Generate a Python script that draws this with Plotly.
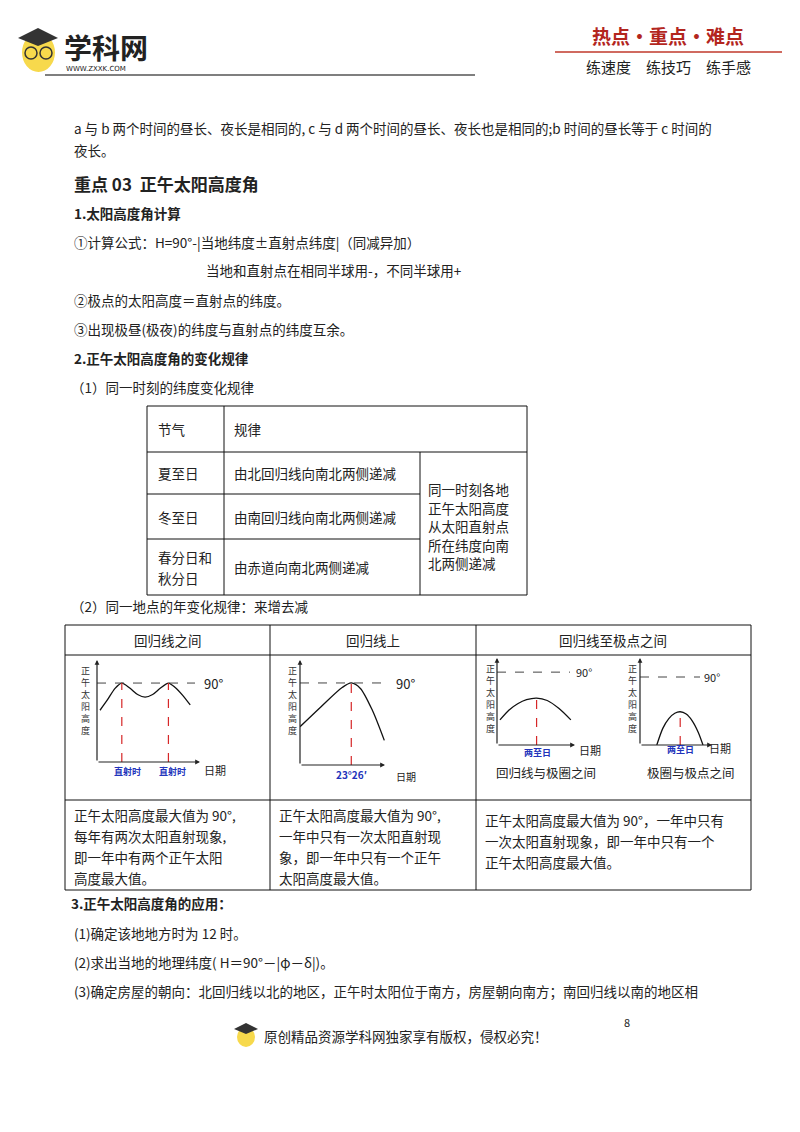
import plotly.graph_objects as go

W, H = 800, 1132
OFF = 8  # page body margin
HF = H - OFF
F = "Noto Sans CJK SC"

# ---- curve data (month index vs noon sun altitude, schematic) ----
a_x = [0, 1, 2, 2.9, 4, 5, 6, 7, 8, 9.1, 10, 11, 12]
a_y = [59, 71, 84, 90, 84, 77, 74, 77, 84, 90, 85, 76, 65]
b_x = [0, 3, 6, 7.3, 8.6, 10.3, 12]
b_y = [42, 64, 85, 90, 84, 60, 27]
c_x = [0, 1.5, 3, 4.5, 6.2, 8, 10, 12]
c_y = [31, 43, 51, 56, 58, 55, 45, 31]
d_x = [2.8, 3.8, 4.8, 5.8, 6.7, 7.7, 8.7, 9.7, 10.5]
d_y = [0, 22, 35, 42, 44, 41, 32, 17, 0]

fig = go.Figure()
ann = []
shp = []

def txt(x, y, s, size=13.5, color="#222", bold=False, xa="left", ya="middle", fam=F):
    ann.append(dict(x=x, y=y, xref="x", yref="y", text=("<b>%s</b>" % s) if bold else s,
                    showarrow=False, xanchor=xa, yanchor=ya, borderpad=0,
                    font=dict(family=fam, size=size, color=color)))

def line(x0, y0, x1, y1, color="#111", w=1, dash="solid"):
    shp.append(dict(type="line", xref="x", yref="y", x0=x0, y0=y0, x1=x1, y1=y1,
                    line=dict(color=color, width=w, dash=dash)))

def arrow(x0, y0, x1, y1):
    ann.append(dict(x=x1, y=y1, ax=x0, ay=y0, xref="x", yref="y", axref="x", ayref="y",
                    showarrow=True, arrowhead=2, arrowsize=0.8, arrowwidth=1.2,
                    arrowcolor="#222", text=""))

fig.add_trace(go.Scatter(x=[OFF + 1], y=[OFF + 1], mode="markers", marker=dict(opacity=0), showlegend=False))

# ---- header ----
shp.append(dict(type="circle", xref="x", yref="y", x0=22, y0=33, x1=55, y1=72,
                fillcolor="#f7d94c", line=dict(width=0)))
shp.append(dict(type="path", xref="x", yref="y", path="M 18 38 L 38 28 L 58 38 L 38 46 Z",
                fillcolor="#333", line=dict(width=0)))
shp.append(dict(type="circle", xref="x", yref="y", x0=25, y0=47, x1=37, y1=59, line=dict(color="#333", width=1.5)))
shp.append(dict(type="circle", xref="x", yref="y", x0=40, y0=47, x1=52, y1=59, line=dict(color="#333", width=1.5)))
txt(63, 47, "<b>学科网</b>", size=28, color="#222")
txt(65, 69, "WWW.ZXXK.COM", size=7, color="#222", fam="DejaVu Sans")
line(45, 75, 475, 75, color="#555", w=1.5)
txt(668, 35, "<b>热点·重点·难点</b>", size=19, color="#b3261e", xa="center")
line(555, 52, 782, 52, color="#c0392b", w=1.5)
txt(668, 66, "练速度　练技巧　练手感", size=15, color="#222", xa="center")

# ---- body text ----
txt(73, 128, "a 与 b 两个时间的昼长、夜长是相同的, c 与 d 两个时间的昼长、夜长也是相同的;b 时间的昼长等于 c 时间的")
txt(73, 150, "夜长。")
txt(73, 183, "<b>重点 03  正午太阳高度角</b>", size=17)
txt(73, 213, "1.太阳高度角计算", bold=True)
txt(73, 242, "①计算公式：H=90°-|当地纬度±直射点纬度|（同减异加）")
txt(205, 270, "当地和直射点在相同半球用-，不同半球用+")
txt(73, 300, "②极点的太阳高度＝直射点的纬度。")
txt(73, 329, "③出现极昼(极夜)的纬度与直射点的纬度互余。")
txt(73, 358, "2.正午太阳高度角的变化规律", bold=True)
txt(70, 387, "（1）同一时刻的纬度变化规律")

# ---- table 1 ----
for y in [406, 595]:
    line(147, y, 527, y)
line(147, 452, 527, 452)
line(147, 494, 420, 494)
line(147, 539, 420, 539)
line(147, 406, 147, 595); line(224, 406, 224, 595)
line(420, 452, 420, 595); line(527, 406, 527, 595)
txt(157, 429, "节气"); txt(233, 429, "规律")
txt(157, 473, "夏至日"); txt(233, 473, "由北回归线向南北两侧递减")
txt(157, 517, "冬至日"); txt(233, 517, "由南回归线向南北两侧递减")
txt(157, 557, "春分日和"); txt(157, 578, "秋分日")
txt(233, 567, "由赤道向南北两侧递减")
for i, s in enumerate(["同一时刻各地", "正午太阳高度", "从太阳直射点", "所在纬度向南", "北两侧递减"]):
    txt(427, 489 + i * 18.5, s)

txt(70, 606, "（2）同一地点的年变化规律：来增去减")

# ---- table 2 ----
for y in [625, 655, 800, 890]:
    line(65, y, 751, y)
for x in [65, 270, 476, 751]:
    line(x, 625, x, 890)
txt(168, 640, "回归线之间", xa="center")
txt(373, 640, "回归线上", xa="center")
txt(613, 640, "回归线至极点之间", xa="center")

col1 = ["正午太阳高度最大值为 90°,", "每年有两次太阳直射现象,", "即一年中有两个正午太阳", "高度最大值。"]
col2 = ["正午太阳高度最大值为 90°,", "一年中只有一次太阳直射现", "象，即一年中只有一个正午", "太阳高度最大值。"]
col3 = ["正午太阳高度最大值为 90°，一年中只有", "一次太阳直射现象，即一年中只有一个", "正午太阳高度最大值。"]
for i, s in enumerate(col1): txt(73, 815 + i * 21, s)
for i, s in enumerate(col2): txt(278, 815 + i * 21, s)
for i, s in enumerate(col3): txt(484, 820 + i * 21, s)

# ---- mini charts ----
charts = [
    ("2", a_x, a_y, (97, 200, 662, 762), [-0.4, 13.3], [0, 114], [2.9, 9.1], 195, 85),
    ("3", b_x, b_y, (300, 385, 662, 765), [0, 12.1], [0, 113], [7.3], 395, 292),
    ("4", c_x, c_y, (497, 575, 660, 745), [-0.5, 12.7], [0, 105], [6.2], 570, 490),
    ("5", d_x, d_y, (640, 712, 660, 745), [0, 12], [0, 112.5], [6.7], 700, 632),
]
for n, xs, ys, (px0, px1, py0, py1), xr, yr, peaks, dend, lx in charts:
    fig.add_trace(go.Scatter(x=xs, y=ys, mode="lines", line=dict(color="#111", width=1.3, shape="spline", smoothing=0.8),
                             xaxis="x" + n, yaxis="y" + n, showlegend=False, hoverinfo="skip"))
    fig.add_trace(go.Scatter(x=[xr[0], xr[0] + (xr[1] - xr[0]) * (dend - px0) / (px1 - px0)], y=[90, 90],
                             mode="lines", line=dict(color="#444", width=1, dash="dash"),
                             xaxis="x" + n, yaxis="y" + n, showlegend=False, hoverinfo="skip"))
    for p in peaks:
        pk = ys[xs.index(p)]
        fig.add_trace(go.Scatter(x=[p, p], y=[0, pk], mode="lines",
                                 line=dict(color="#d62728", width=1.2, dash="dash"),
                                 xaxis="x" + n, yaxis="y" + n, showlegend=False, hoverinfo="skip"))
    fig.update_layout(**{
        "xaxis" + n: dict(domain=[(px0 - OFF) / W, (px1 - OFF) / W], range=xr, visible=False, anchor="y" + n),
        "yaxis" + n: dict(domain=[1 - (py1 - OFF) / HF, 1 - (py0 - OFF) / HF], range=yr, visible=False, anchor="x" + n),
    })
    arrow(px0, py1, px0, py0 - 2)
    arrow(px0, py1, px1, py1)
    for i, ch in enumerate("正午太阳高度"):
        txt(lx, py0 + 8 + i * 12, ch, size=9, xa="center", color="#333")

txt(213, 683, "90°", size=13, xa="center")
txt(127, 771, "直射时", size=9, color="#2233bb", xa="center", bold=True)
txt(172, 771, "直射时", size=9, color="#2233bb", xa="center", bold=True)
txt(215, 770, "日期", size=11, xa="center")
txt(405, 683, "90°", size=13, xa="center")
txt(351, 774, "23°26′", size=10, color="#2233bb", xa="center", bold=True)
txt(406, 776, "日期", size=10, xa="center")
txt(584, 672, "90°", size=11, xa="center")
txt(537, 752, "两至日", size=9, color="#2233bb", xa="center", bold=True)
txt(590, 750, "日期", size=11, xa="center")
txt(546, 772, "回归线与极圈之间", size=12.5, xa="center")
txt(712, 677, "90°", size=11, xa="center")
txt(680, 749, "两至日", size=9, color="#2233bb", xa="center", bold=True)
txt(720, 748, "日期", size=11, xa="center")
txt(691, 772, "极圈与极点之间", size=12.5, xa="center")

# ---- section 3 ----
txt(70, 903, "3.正午太阳高度角的应用：", bold=True)
txt(73, 933, "(1)确定该地地方时为 12 时。")
txt(73, 962, "(2)求出当地的地理纬度( H＝90°－|φ－δ|)。")
txt(73, 991, "(3)确定房屋的朝向：北回归线以北的地区，正午时太阳位于南方，房屋朝向南方；南回归线以南的地区相")

# ---- footer ----
txt(627, 1022, "8", size=11, xa="center")
shp.append(dict(type="circle", xref="x", yref="y", x0=237, y0=1027, x1=255, y1=1047,
                fillcolor="#f7d94c", line=dict(width=0)))
shp.append(dict(type="path", xref="x", yref="y", path="M 234 1029 L 246 1023 L 258 1029 L 246 1034 Z",
                fillcolor="#333", line=dict(width=0)))
txt(263, 1036, "原创精品资源学科网独家享有版权，侵权必究！", size=13.5)

fig.update_layout(
    width=W, height=HF, margin=dict(l=0, r=0, t=0, b=0),
    paper_bgcolor="white", plot_bgcolor="white",
    xaxis=dict(range=[OFF, W + OFF], domain=[0, 1], visible=False, fixedrange=True),
    yaxis=dict(range=[H, OFF], domain=[0, 1], visible=False, fixedrange=True),
    annotations=ann, shapes=shp,
)
fig.write_html("out.html")
